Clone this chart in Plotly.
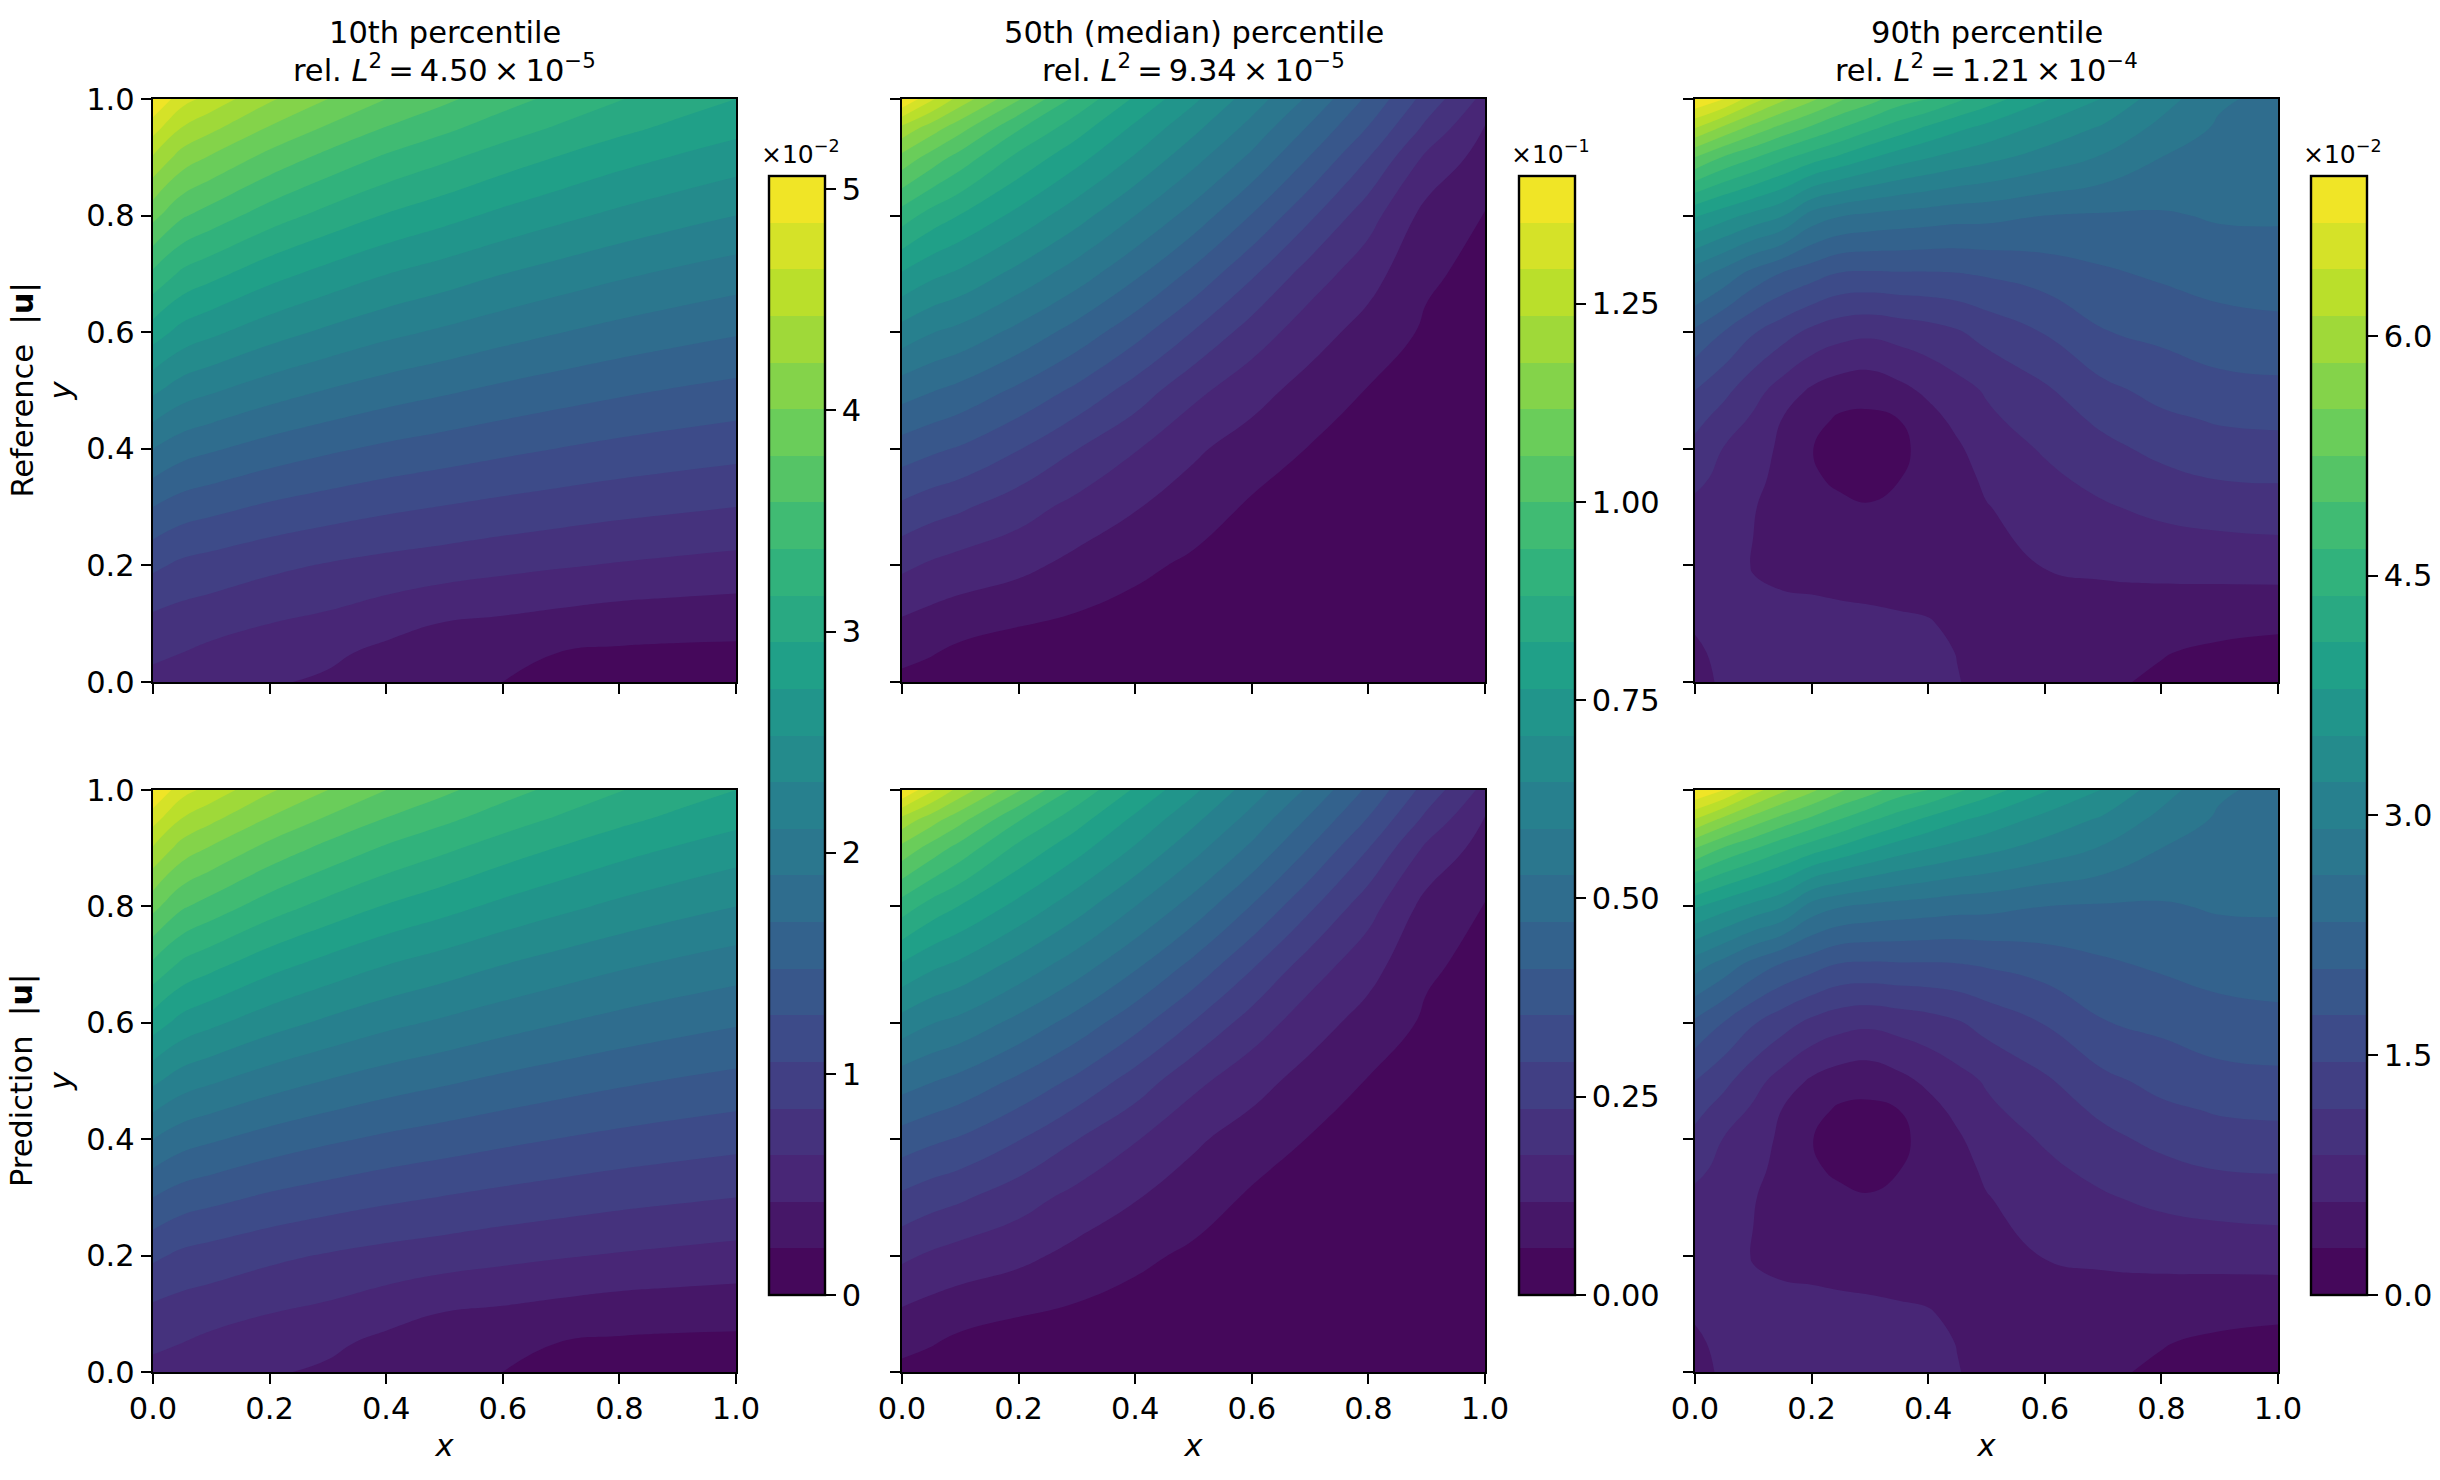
import numpy as np
import plotly.graph_objects as go
from plotly.colors import sample_colorscale

WIDTH, HEIGHT = 2440, 1480
N_BANDS = 24

# Field values are kept in contour-band units (0 .. 24 over the colour range).
x_grid = [0, .05, .1, .2, .3, .4, .5, .6, .7, .8, .9, 1]
y_grid = [0, .05, .1, .2, .3, .4, .5, .6, .7, .8, .9, .95, 1]
x_grid_90 = [0, .05, .1, .15, .2, .25, .3, .35, .4, .45, .5, .6, .7, .8, .9, 1]
y_grid_90 = [0, .05, .1, .15, .2, .3, .35, .4, .45, .5, .6, .7, .8, .9, .95, 1]

u10_ref = [
    [2.7, 2.45, 2.3, 2.1, 1.85, 1.55, 1.25, 1.0, .85, .72, .62, .55],
    [3.2, 3.0, 2.75, 2.4, 2.2, 1.75, 1.48, 1.2, .98, .87, .82, .8],
    [3.7, 3.5, 3.35, 3.0, 2.74, 2.35, 1.95, 1.8, 1.6, 1.42, 1.35, 1.3],
    [5.2, 4.79, 4.59, 4.22, 3.92, 3.67, 3.47, 3.26, 3.08, 2.92, 2.78, 2.65],
    [7, 6.52, 6.28, 5.84, 5.5, 5.2, 4.96, 4.72, 4.51, 4.31, 4.15, 4],
    [9, 8.42, 8.12, 7.59, 7.17, 6.81, 6.52, 6.23, 5.97, 5.73, 5.53, 5.35],
    [11.2, 10.48, 10.12, 9.47, 8.95, 8.5, 8.14, 7.78, 7.46, 7.17, 6.92, 6.7],
    [13.5, 12.64, 12.2, 11.42, 10.8, 10.26, 9.83, 9.4, 9.02, 8.67, 8.37, 8.1],
    [15.8, 14.79, 14.29, 13.37, 12.65, 12.02, 11.52, 11.01, 10.57, 10.16, 9.81, 9.5],
    [18.3, 17.13, 16.55, 15.49, 14.65, 13.92, 13.34, 12.75, 12.24, 11.77, 11.36, 11],
    [20.9, 19.56, 18.88, 17.67, 16.7, 15.86, 15.19, 14.52, 13.93, 13.38, 12.92, 12.5],
    [22.4, 20.94, 20.22, 18.9, 17.85, 16.94, 16.21, 15.48, 14.85, 14.26, 13.75, 13.3],
    [24, 22.4, 21.6, 20.15, 19, 18, 17.2, 16.4, 15.7, 15.05, 14.5, 14],
]

u50_ref = [
    [.75, .55, .45, .3, .2, .15, .1, .08, .06, .05, .04, .03],
    [1.29, 1.07, .75, .5, .35, .22, .15, .1, .08, .06, .05, .04],
    [1.84, 1.59, 1.4, 1.06, .83, .55, .3, .2, .12, .08, .06, .05],
    [3.2, 2.86, 2.6, 2.27, 1.7, 1.25, .8, .5, .3, .2, .13, .1],
    [4.8, 4.43, 4.15, 3.43, 2.7, 2.06, 1.55, .85, .6, .4, .25, .2],
    [6.55, 6.2, 5.9, 5.05, 4.02, 3.07, 2.15, 1.58, .95, .65, .42, .3],
    [8.45, 8.06, 7.7, 6.8, 5.78, 4.57, 3.27, 2.36, 1.63, .95, .6, .42],
    [10.6, 10.05, 9.7, 8.7, 7.6, 6.36, 4.95, 3.55, 2.43, 1.62, .85, .55],
    [12.9, 12.25, 11.8, 10.67, 9.5, 8.2, 6.75, 5.15, 3.52, 2.39, 1.15, .72],
    [15.5, 14.6, 13.95, 12.7, 11.4, 10, 8.6, 6.95, 5.18, 3.4, 1.66, .95],
    [18.7, 17.6, 16.6, 14.73, 13.35, 11.9, 10.35, 8.8, 6.95, 5.02, 2.8, 1.6],
    [20.7, 19.5, 18.35, 16.1, 14.4, 12.8, 11.25, 9.65, 7.85, 5.93, 3.75, 1.93],
    [24, 22.2, 20.6, 18.1, 15.7, 13.85, 12.2, 10.5, 8.8, 6.8, 4.6, 2.7],
]

u90_ref = [
    [1.7, 2.15, 2.35, 2.45, 2.5, 2.55, 2.5, 2.4, 2.3, 2.03, 1.8, 1.45, 1.15, .85, .6, .5],
    [1.9, 2.15, 2.3, 2.3, 2.35, 2.35, 2.3, 2.25, 2.2, 1.98, 1.7, 1.45, 1.25, 1.05, .8, .65],
    [2.06, 2.2, 2.25, 2.2, 2.2, 2.2, 2.15, 2.12, 2.07, 1.8, 1.55, 1.5, 1.45, 1.45, 1.3, 1.2],
    [2.2, 2.3, 2.12, 2.03, 2.0, 1.95, 1.92, 1.85, 1.75, 1.5, 1.45, 1.7, 1.8, 1.85, 1.8, 1.8],
    [2.46, 2.45, 1.95, 1.82, 1.75, 1.7, 1.6, 1.55, 1.45, 1.4, 1.45, 2.05, 2.2, 2.25, 2.35, 2.4],
    [2.86, 2.7, 2.05, 1.65, 1.3, 1.15, 1.05, 1.2, 1.25, 1.45, 1.95, 2.55, 2.9, 3.25, 3.45, 3.55],
    [3.16, 2.83, 2.32, 1.65, 1.1, .85, .75, .98, 1.2, 1.6, 2.2, 2.8, 3.3, 3.75, 4.05, 4.1],
    [3.69, 2.95, 2.58, 1.75, 1.02, .7, .6, .8, 1.3, 1.85, 2.5, 3.1, 3.75, 4.25, 4.6, 4.65],
    [4.3, 3.56, 2.84, 1.97, 1.3, .85, .8, 1.0, 1.65, 2.25, 2.8, 3.5, 4.2, 4.8, 5.1, 5.2],
    [5, 4.26, 3.38, 2.56, 1.85, 1.47, 1.36, 1.72, 2.2, 2.65, 3.1, 3.85, 4.75, 5.3, 5.65, 5.75],
    [6.8, 5.96, 5.08, 4.4, 3.75, 3.35, 3.2, 3.4, 3.6, 3.9, 4.35, 5.05, 5.95, 6.25, 6.6, 6.7],
    [9.45, 8.6, 7.63, 6.9, 6.4, 5.9, 5.85, 5.9, 5.9, 5.95, 6.1, 6.45, 6.85, 7.15, 7.4, 7.55],
    [13.1, 12.4, 11.7, 11.05, 9.6, 9.05, 8.8, 8.63, 8.5, 8.35, 8.3, 8, 7.9, 7.9, 8.1, 8.1],
    [18, 16.9, 16.1, 15.25, 14.5, 13.8, 13.1, 12.5, 12.05, 11.65, 11.3, 10.6, 9.9, 9, 8.6, 8.45],
    [21, 19.73, 18.6, 17.65, 16.8, 16, 15.2, 14.5, 13.8, 13.2, 12.7, 11.7, 10.85, 9.7, 8.85, 8.6],
    [24, 23, 21.45, 20.2, 19.2, 18.1, 17.4, 16.5, 16, 15.2, 14.5, 13.1, 11.95, 10.45, 9.15, 8.7],
]

# Predicted fields agree with the reference to about one part in ten thousand.
u10_pred = u10_ref
u50_pred = u50_ref
u90_pred = u90_ref

title_tops = ["10th percentile", "50th (median) percentile", "90th percentile"]
title_errors = [
    "rel. <i>L</i><sup>2</sup>\u2009=\u20094.50\u2009×\u200910<sup>−5</sup>",
    "rel. <i>L</i><sup>2</sup>\u2009=\u20099.34\u2009×\u200910<sup>−5</sup>",
    "rel. <i>L</i><sup>2</sup>\u2009=\u20091.21\u2009×\u200910<sup>−4</sup>",
]
row_labels = ["Reference  |<b>u</b>|", "Prediction  |<b>u</b>|"]
cbar_max = [5.06, 1.411, 7.0]
cbar_exponents = ["×10<sup>−2</sup>", "×10<sup>−1</sup>", "×10<sup>−2</sup>"]
cbar_ticks = [[0, 1, 2, 3, 4, 5], [0, .25, .5, .75, 1, 1.25], [0, 1.5, 3, 4.5, 6]]
cbar_ticktext = [
    ["0", "1", "2", "3", "4", "5"],
    ["0.00", "0.25", "0.50", "0.75", "1.00", "1.25"],
    ["0.0", "1.5", "3.0", "4.5", "6.0"],
]

# Pixel layout of the panel grid and the shared colour bars.
col_px = [(153, 736), (902, 1485), (1695, 2278)]
row_px = [(99, 682), (790, 1372)]
cbar_px = [(769, 825), (1519, 1575), (2311, 2367)]
cbar_y_px = (176, 1295)

M_L, M_R, M_T, M_B = 110, 60, 90, 30

FONT = "DejaVu Sans"
FS = 30.5
INK = "#000000"

band_colors = sample_colorscale("Viridis", [(i + .5) / N_BANDS for i in range(N_BANDS)])
stepped = []
for i, c in enumerate(band_colors):
    stepped += [[i / N_BANDS, c], [(i + 1) / N_BANDS, c]]


def fx(px):
    return (px - M_L) / (WIDTH - M_L - M_R)


def fy(px):
    return 1 - (px - M_T) / (HEIGHT - M_T - M_B)


fig = go.Figure()
fields = [
    [(x_grid, y_grid, u10_ref), (x_grid, y_grid, u50_ref), (x_grid_90, y_grid_90, u90_ref)],
    [(x_grid, y_grid, u10_pred), (x_grid, y_grid, u50_pred), (x_grid_90, y_grid_90, u90_pred)],
]

for r in range(2):
    for c in range(3):
        idx = r * 3 + c + 1
        suffix = "" if idx == 1 else str(idx)
        xs, ys, bands = fields[r][c]
        step = cbar_max[c] / N_BANDS
        fig.add_trace(go.Contour(
            x=xs, y=ys, z=np.array(bands) * step,
            xaxis=f"x{suffix}", yaxis=f"y{suffix}",
            colorscale=stepped, zmin=0, zmax=cbar_max[c],
            contours=dict(start=step, end=step * (N_BANDS - 1), size=step,
                          coloring="fill", showlines=False),
            line=dict(width=0, smoothing=1.3),
            hoverinfo="skip",
            showscale=r == 0,
            colorbar=dict(
                x=fx(cbar_px[c][0]), xanchor="left", xpad=0, ypad=0,
                y=fy(cbar_y_px[1]), yanchor="bottom",
                len=(cbar_y_px[1] - cbar_y_px[0]) / (HEIGHT - M_T - M_B), lenmode="fraction",
                thickness=cbar_px[c][1] - cbar_px[c][0], thicknessmode="pixels",
                outlinewidth=2.4, outlinecolor=INK,
                ticks="outside", ticklen=10, tickwidth=2.4, tickcolor=INK,
                tickmode="array", tickvals=cbar_ticks[c], ticktext=cbar_ticktext[c],
                tickfont=dict(family=FONT, size=FS, color=INK),
            ),
        ))
        axis_common = dict(
            range=[0, 1], tickmode="array", tickvals=[0, .2, .4, .6, .8, 1],
            ticks="outside", ticklen=10, tickwidth=2.4, tickcolor=INK,
            showline=True, linecolor=INK, linewidth=2.4, mirror=True,
            showgrid=False, zeroline=False, tickformat=".1f",
            tickfont=dict(family=FONT, size=FS, color=INK),
        )
        xaxis = dict(
            axis_common,
            domain=[fx(col_px[c][0]), fx(col_px[c][1])],
            anchor=f"y{suffix}", showticklabels=r == 1,
            ticklabelstandoff=-2,
        )
        if r == 1:
            xaxis["title"] = dict(text="<i>x</i>", standoff=10,
                                  font=dict(family=FONT, size=FS, color=INK))
        yaxis = dict(
            axis_common,
            domain=[fy(row_px[r][1]), fy(row_px[r][0])],
            anchor=f"x{suffix}", showticklabels=c == 0,
        )
        if c == 0:
            yaxis["title"] = dict(text="<i>y</i>", standoff=6,
                                  font=dict(family=FONT, size=FS, color=INK))
        fig.update_layout({f"xaxis{suffix}": xaxis, f"yaxis{suffix}": yaxis})

annotations = []
for c in range(3):
    for text, py in ((title_tops[c], 33), (title_errors[c], 68)):
        annotations.append(dict(
            text=text, xref="paper", yref="paper",
            x=fx(sum(col_px[c]) / 2), y=fy(py), xanchor="center", yanchor="middle",
            showarrow=False, align="center", font=dict(family=FONT, size=FS, color=INK),
        ))
    annotations.append(dict(
        text=cbar_exponents[c], xref="paper", yref="paper",
        x=fx(cbar_px[c][0] - 10), y=fy(171), xanchor="left", yanchor="bottom",
        showarrow=False, font=dict(family=FONT, size=25, color=INK),
    ))
for r in range(2):
    annotations.append(dict(
        text=row_labels[r], xref="paper", yref="paper", textangle=-90,
        x=fx(22), y=fy(sum(row_px[r]) / 2), xanchor="center", yanchor="middle",
        showarrow=False, font=dict(family=FONT, size=FS, color=INK),
    ))

fig.update_layout(
    width=WIDTH, height=HEIGHT,
    margin=dict(l=M_L, r=M_R, t=M_T, b=M_B, autoexpand=False),
    paper_bgcolor="white", plot_bgcolor="white",
    font=dict(family=FONT, size=FS, color=INK),
    annotations=annotations,
    showlegend=False,
)

fig.write_html("out.html")
